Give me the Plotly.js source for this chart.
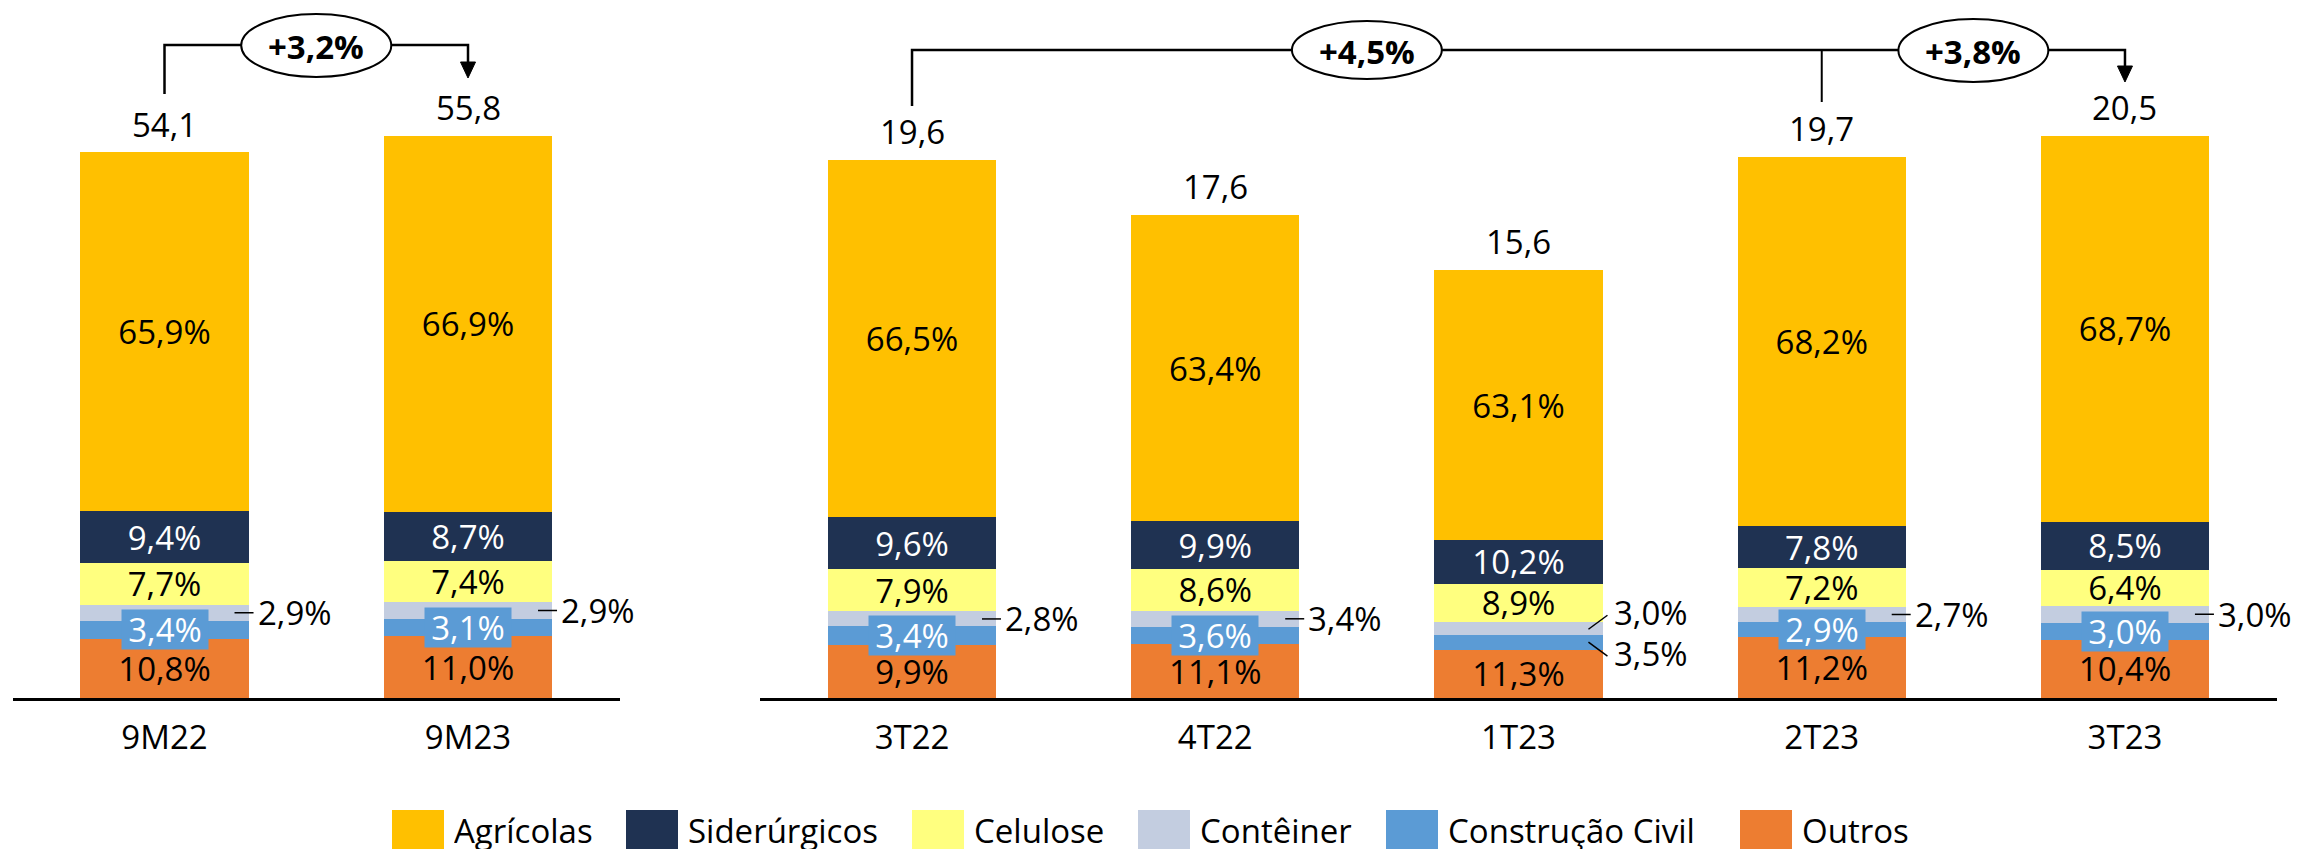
<!DOCTYPE html>
<html><head><meta charset="utf-8">
<script src="https://cdn.plot.ly/plotly-3.0.1.min.js"></script>
<style>html,body{margin:0;padding:0;background:#fff}</style>
</head><body>
<div id="chart" style="width:2300px;height:852px"></div>
<script>
// ---------- DATA ----------
const periods = ['9M22', '9M23'];
const periodTotals = [54.1, 55.8];
const quarters = ['3T22', '4T22', '1T23', '2T23', '3T23'];
const quarterTotals = [19.6, 17.6, 15.6, 19.7, 20.5];

// shares (%) per segment
const agricolasP = [65.9, 66.9];
const agricolasQ = [66.5, 63.4, 63.1, 68.2, 68.7];
const siderurgicosP = [9.4, 8.7];
const siderurgicosQ = [9.6, 9.9, 10.2, 7.8, 8.5];
const celuloseP = [7.7, 7.4];
const celuloseQ = [7.9, 8.6, 8.9, 7.2, 6.4];
const conteinerP = [2.9, 2.9];
const conteinerQ = [2.8, 3.4, 3.0, 2.7, 3.0];
const construcaoP = [3.4, 3.1];
const construcaoQ = [3.4, 3.6, 3.5, 2.9, 3.0];
const outrosP = [10.8, 11.0];
const outrosQ = [9.9, 11.1, 11.3, 11.2, 10.4];

const periodGrowth = ['+3,2%'];
const quarterGrowth = ['+4,5%', '+3,8%'];

// ---------- STYLE ----------
const FONT = 'Open Sans, Noto Sans, sans-serif';
const FS = 33;
const W = 2300, H = 852, AXIS_Y = 698, MAXBAR_PX = 562.5;
const CAT_PX = 303.4;
const py = px => 1 - px / H;

const series = [
  {name: 'Outros', p: outrosP, q: outrosQ, color: '#ED7D31', txt: '#000000', mode: 'inside'},
  {name: 'Construção Civil', p: construcaoP, q: construcaoQ, color: '#5B9BD5', txt: '#FFFFFF', mode: 'box'},
  {name: 'Contêiner', p: conteinerP, q: conteinerQ, color: '#C3CDE0', txt: '#000000', mode: 'outside'},
  {name: 'Celulose', p: celuloseP, q: celuloseQ, color: '#FFFF7F', txt: '#000000', mode: 'inside'},
  {name: 'Siderúrgicos', p: siderurgicosP, q: siderurgicosQ, color: '#1F3252', txt: '#FFFFFF', mode: 'inside'},
  {name: 'Agrícolas', p: agricolasP, q: agricolasQ, color: '#FFC000', txt: '#000000', mode: 'inside'}
];

const fmt = v => v.toFixed(1).replace('.', ',');
const yTop1 = Math.max(...periodTotals) * AXIS_Y / MAXBAR_PX;
const yTop2 = Math.max(...quarterTotals) * AXIS_Y / MAXBAR_PX;

const traces = [];
series.forEach(s => {
  [[periods, periodTotals, s.p, 'x', 'y'], [quarters, quarterTotals, s.q, 'x2', 'y2']].forEach(([cats, tots, pct, xa, ya]) => {
    traces.push({
      type: 'bar', name: s.name, legendgroup: s.name, showlegend: false,
      x: cats, y: cats.map((c, i) => tots[i] * pct[i] / 100),
      xaxis: xa, yaxis: ya,
      marker: {color: s.color, line: {width: 0}},
      text: s.mode === 'inside' ? pct.map(v => fmt(v) + '%') : undefined,
      textposition: s.mode === 'inside' ? 'inside' : 'none',
      insidetextanchor: 'middle', textangle: 0,
      textfont: {family: FONT, size: FS, color: s.txt},
      hoverinfo: 'skip'
    });
  });
});

const annotations = [];
const shapes = [];

// totals on top
[[periods, periodTotals, 'x', 'y'], [quarters, quarterTotals, 'x2', 'y2']].forEach(([cats, tots, xa, ya]) => {
  cats.forEach((c, i) => annotations.push({
    x: c, y: tots[i], xref: xa, yref: ya, text: fmt(tots[i]), showarrow: false,
    xanchor: 'center', yanchor: 'bottom', yshift: 4, font: {family: FONT, size: FS, color: '#000'}
  }));
});

// Construção Civil & Contêiner labels
const outsideCC = ['1T23'];
function leader(xa, i, y0, y1) {
  shapes.push({type: 'line', xref: xa, yref: xa === 'x' ? 'y' : 'y2', layer: 'above',
    x0: i + 70 / CAT_PX, x1: i + 89 / CAT_PX, y0: y0, y1: y1, line: {color: '#000', width: 1.5}});
}
[[periods, periodTotals, outrosP, construcaoP, conteinerP, 'x', 'y', yTop1],
 [quarters, quarterTotals, outrosQ, construcaoQ, conteinerQ, 'x2', 'y2', yTop2]].forEach(([cats, tots, o, cc, ct, xa, ya, yTop]) => {
  const pxY = v => v * yTop / AXIS_Y;
  cats.forEach((c, i) => {
    const ccMid = tots[i] * (o[i] + cc[i] / 2) / 100;
    const ctMid = tots[i] * (o[i] + cc[i] + ct[i] / 2) / 100;
    if (outsideCC.includes(c)) {
      leader(xa, i, ctMid - pxY(1), ctMid + pxY(13));
      leader(xa, i, ccMid, ccMid - pxY(14));
      annotations.push({x: c, y: ctMid + pxY(16), xref: xa, yref: ya, xshift: 93, xanchor: 'left', yanchor: 'middle',
        text: fmt(ct[i]) + '%', showarrow: false, font: {family: FONT, size: FS, color: '#000'}});
      annotations.push({x: c, y: ccMid - pxY(11), xref: xa, yref: ya, xshift: 93, xanchor: 'left', yanchor: 'middle',
        text: fmt(cc[i]) + '%', showarrow: false, font: {family: FONT, size: FS, color: '#000'}});
    } else {
      annotations.push({x: c, y: ccMid, xref: xa, yref: ya, text: fmt(cc[i]) + '%', showarrow: false,
        xanchor: 'center', yanchor: 'middle',
        bgcolor: '#5B9BD5', width: 86, height: 39, borderpad: 0, valign: 'middle',
        font: {family: FONT, size: FS, color: '#FFFFFF'}});
      leader(xa, i, ctMid, ctMid);
      annotations.push({x: c, y: ctMid, xref: xa, yref: ya, xshift: 91, xanchor: 'left', yanchor: 'middle',
        text: fmt(ct[i]) + '%', showarrow: false, font: {family: FONT, size: FS, color: '#000'}});
    }
  });
});

// growth brackets
const LW = 2.5;
const rx = 75 / CAT_PX;
const GFS = 33;
function arrowTri(xref, xi, yBase, yTip) {
  const hw = 7.5 / CAT_PX;
  shapes.push({type: 'path', xref: xref, yref: 'paper', layer: 'above',
    path: `M${xi - hw},${py(yBase)} L${xi + hw},${py(yBase)} L${xi},${py(yTip)} Z`,
    fillcolor: '#000', line: {color: '#000', width: 1}});
}
// left
shapes.push({type: 'path', xref: 'x', yref: 'paper', layer: 'above',
  path: `M0,${py(94)} L0,${py(45)} L1,${py(45)} L1,${py(64)}`, line: {color: '#000', width: LW}});
arrowTri('x', 1, 62, 78);
shapes.push({type: 'circle', xref: 'x', yref: 'paper', layer: 'above', x0: 0.5 - rx, x1: 0.5 + rx,
  y0: py(77), y1: py(14), fillcolor: '#fff', line: {color: '#000', width: 2}});
annotations.push({x: 0.5, y: py(46), xref: 'x', yref: 'paper', showarrow: false,
  xanchor: 'center', yanchor: 'middle',
  text: '<b>' + periodGrowth[0] + '</b>', font: {family: FONT, size: GFS, color: '#000'}});
// right
shapes.push({type: 'path', xref: 'x2', yref: 'paper', layer: 'above',
  path: `M0,${py(106)} L0,${py(50)} L4,${py(50)} L4,${py(68)}`, line: {color: '#000', width: LW}});
shapes.push({type: 'path', xref: 'x2', yref: 'paper', layer: 'above',
  path: `M3,${py(50)} L3,${py(102)}`, line: {color: '#000', width: 2}});
arrowTri('x2', 4, 66, 82);
[[1.5, 21, 79, quarterGrowth[0]], [3.5, 19, 82, quarterGrowth[1]]].forEach(([cx, t, b, txt]) => {
  shapes.push({type: 'circle', xref: 'x2', yref: 'paper', layer: 'above', x0: cx - rx, x1: cx + rx,
    y0: py(b), y1: py(t), fillcolor: '#fff', line: {color: '#000', width: 2}});
  annotations.push({x: cx, y: py((t + b) / 2 + 1), xref: 'x2', yref: 'paper', showarrow: false,
    xanchor: 'center', yanchor: 'middle',
    text: '<b>' + txt + '</b>', font: {family: FONT, size: GFS, color: '#000'}});
});

// custom legend (order: top of stack first)
const legendBoxX = [392, 626, 912, 1138, 1386, 1740];
const legendSeries = series.slice().reverse();
legendSeries.forEach((s, i) => {
  const x0 = legendBoxX[i];
  shapes.push({type: 'rect', xref: 'paper', yref: 'paper', x0: x0 / W, x1: (x0 + 52) / W,
    y0: py(849), y1: py(810), fillcolor: s.color, line: {width: 0}});
  annotations.push({x: (x0 + 61) / W, y: py(830), xref: 'paper', yref: 'paper', xanchor: 'left',
    yanchor: 'middle', height: 38, valign: 'middle', borderpad: 0,
    showarrow: false, text: s.name, font: {family: FONT, size: FS, color: '#000'}});
});

const yDom = [(H - AXIS_Y) / H, 1];
const xAxisCommon = {type: 'category', showline: true, linecolor: '#000', linewidth: 3,
  showgrid: false, zeroline: false, ticks: '', ticklabelstandoff: 8,
  tickfont: {family: FONT, size: FS, color: '#000'}, fixedrange: true};
const yAxisCommon = {visible: false, showgrid: false, zeroline: false, fixedrange: true};

const layout = {
  width: W, height: H, autosize: false,
  margin: {l: 0, r: 0, t: 0, b: 0, pad: 0},
  paper_bgcolor: '#fff', plot_bgcolor: '#fff',
  barmode: 'stack', bargap: 0.445,
  showlegend: false,
  uniformtext: {mode: 'show', minsize: FS},
  font: {family: FONT, size: FS, color: '#000'},
  xaxis: Object.assign({}, xAxisCommon, {domain: [12.75 / W, 619.75 / W], anchor: 'y', range: [-0.5, 1.5]}),
  yaxis: Object.assign({}, yAxisCommon, {domain: yDom, anchor: 'x', range: [0, yTop1]}),
  xaxis2: Object.assign({}, xAxisCommon, {domain: [760.4 / W, 2276.6 / W], anchor: 'y2', range: [-0.5, 4.5]}),
  yaxis2: Object.assign({}, yAxisCommon, {domain: yDom, anchor: 'x2', range: [0, yTop2]}),
  annotations: annotations,
  shapes: shapes,
  hovermode: false
};

Plotly.newPlot('chart', traces, layout, {displayModeBar: false, staticPlot: true});
</script>
</body></html>
